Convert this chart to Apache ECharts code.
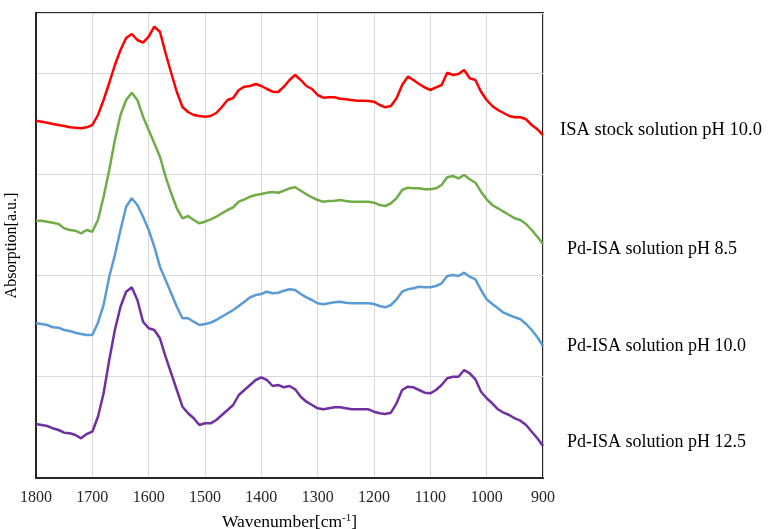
<!DOCTYPE html>
<html>
<head>
<meta charset="utf-8">
<script src="https://cdn.jsdelivr.net/npm/echarts@6/dist/echarts.min.js"></script>
<style>
  html, body { margin: 0; padding: 0; background: #fff; }
  #main { width: 768px; height: 529px; }
</style>
</head>
<body>
<div id="main"></div>
<script>
// 波数 1800 -> 900, 每 10 cm-1 一个点
var wavenumber = [1800,1790,1780,1770,1760,1750,1740,1730,1720,1710,
  1700,1690,1680,1670,1660,1650,1640,1630,1620,1610,
  1600,1590,1580,1570,1560,1550,1540,1530,1520,1510,
  1500,1490,1480,1470,1460,1450,1440,1430,1420,1410,
  1400,1390,1380,1370,1360,1350,1340,1330,1320,1310,
  1300,1290,1280,1270,1260,1250,1240,1230,1220,1210,
  1200,1190,1180,1170,1160,1150,1140,1130,1120,1110,
  1100,1090,1080,1070,1060,1050,1040,1030,1020,1010,
  1000,990,980,970,960,950,940,930,920,910,900]

// 吸收值 (任意单位, 各曲线已错开)
var isa_stock_10 = [357.3,356.3,355.3,354,353,352,350.7,350.3,349.7,350.7,
  353,363,378,395,413,428,440,444,438,435.3,
  441.3,451.3,446.3,425,405,386,371,366,363,362,
  361.3,362,365,371,378,380,388,391.3,392,394,
  392,389,386.3,386,391.3,398,403,398,392,389,
  383,380.3,380.7,380.7,379.3,378.7,378,377.3,377.3,377,
  376.3,373,370.7,372,379.7,393,401.3,398,394,390.7,
  388,390.7,393,405.3,403,404,408,399.7,398,386.3,
  378,372,368,365,362,360.7,360.7,358.7,353,348.7,343]

var pd_isa_85 = [257.3,257.3,256.3,255.3,254,249.7,248,247.3,244.7,248,
  246.3,258,281.3,308,338,363,378,385.3,378,361.3,
  348,334.7,321.3,301.3,284.7,269.7,259.7,262,258,254.7,
  256.3,258.7,261.3,264.7,268,270.7,276.3,278.7,281.3,283,
  284,285.3,286,285.3,287.3,289.7,290.7,287.3,283.7,280.7,
  278,276.3,277,277.3,278,277,276.3,276.3,276.3,276.3,
  275.3,273,272,274.7,279.7,288,290.3,289.7,289.7,288.7,
  288.7,289.7,293,300.7,302,299.7,303,298.7,295.3,286.3,
  278.7,273,269.7,266.3,263,259.7,258,254,248,241.3,234]

var pd_isa_100 = [154.7,154,153,150.7,150.3,148,147,145.3,144,143,
  143,155.3,173,201.3,223,248,271.3,279.7,273,261.3,
  248,231.3,211.3,198,184.7,171.3,159.7,159.7,156.3,153,
  154,155.3,158,161.3,164.7,168,172,176.3,180.7,183,
  184,186.3,184.7,185.3,187.3,188.7,188,184,180.7,178,
  174.7,173.7,174.7,175.7,176.3,175.3,174.7,174.7,174.7,174.7,
  174,172,170.7,173,178.7,186.3,188.7,189.7,191.3,190.7,
  190.7,192,194.7,202,203,202,205.3,201.3,198.7,188,
  178.7,174,169.7,165.3,163,160.7,158.7,154,148,140.7,132]

var pd_isa_125 = [54,53,52,49.7,48,45.3,44.7,43,39.7,44,
  46.3,61.3,84.7,118,148,171.3,186.3,190.7,178,156.3,
  149.7,148,139.7,121.3,104.7,88,71.3,64.7,59.7,53,
  54.7,54.7,58,63,68,73,83,88,93,98,
  100.7,98,92,93,90.7,92,88.7,81.3,76.3,73,
  69.7,68.7,69.7,70.7,70.7,69.7,68.7,68.7,68.7,68.7,
  66.3,64.7,64,65.3,74.7,88,91.3,90.7,88,85.3,
  84.7,88,93,99.7,101.3,101.3,108,104.7,98.7,86.3,
  79.7,74.7,68.7,65.3,63,59.7,57.3,53,46.3,39.7,32]

var series_names = ['ISA stock solution pH 10.0', 'Pd-ISA solution pH 8.5',
  'Pd-ISA solution pH 10.0', 'Pd-ISA solution pH 12.5']
var series_colors = ['#ff0000', '#70ad47', '#5b9bd5', '#7030a0']
var x_ticks = [900, 1800]  // min / max, 间隔 100

var serif = '"Liberation Serif", "DejaVu Serif", serif'

function pairs(arr) {
  return arr.map(function (v, i) { return [wavenumber[i], v] })
}

var all_values = [isa_stock_10, pd_isa_85, pd_isa_100, pd_isa_125]
var label_offsets = [[17, -5], [24, 5], [24, 0], [24, -4]]

var series = all_values.map(function (vals, i) {
  return {
    name: series_names[i],
    type: 'line',
    data: pairs(vals),
    showSymbol: false,
    symbol: 'none',
    smooth: false,
    lineStyle: { color: series_colors[i], width: 2.5 },
    itemStyle: { color: series_colors[i] },
    endLabel: {
      show: true,
      formatter: '{a}',
      color: '#000',
      fontFamily: serif,
      fontSize: i === 0 ? 18.5 : 18,
      distance: 0,
      align: 'left',
      verticalAlign: 'middle',
      offset: label_offsets[i]
    }
  }
})

var myChart = echarts.init(document.getElementById('main'))
myChart.setOption({
  animation: false,
  grid: {
    left: 36, top: 13, right: 225, bottom: 51,
    outerBoundsMode: 'none',
    containLabel: false,
    show: true, borderColor: '#262626', borderWidth: 2
  },
  xAxis: {
    type: 'value',
    inverse: true,
    min: x_ticks[0],
    max: x_ticks[1],
    interval: 100,
    name: 'Wavenumber[cm{sup|-1}]',
    nameLocation: 'middle',
    nameGap: 35,
    nameTextStyle: {
      fontFamily: serif, fontSize: 17.5, color: '#000',
      rich: { sup: { fontFamily: serif, fontSize: 11, color: '#000', verticalAlign: 'top', padding: [0, 0, 8, 0] } }
    },
    axisLine: { show: true, lineStyle: { color: '#262626', width: 2 } },
    axisTick: { show: false },
    axisLabel: {
      fontFamily: serif, fontSize: 16, color: '#262626', margin: 12,
      formatter: function (v) { return String(v) }
    },
    splitLine: { show: true, lineStyle: { color: '#d9d9d9', width: 1 } }
  },
  yAxis: {
    type: 'value',
    min: 0,
    max: 465,
    interval: 101.3,
    name: 'Absorption[a.u.]',
    nameLocation: 'middle',
    nameGap: 16,
    nameTextStyle: { fontFamily: serif, fontSize: 16, color: '#000' },
    axisLine: { show: true, lineStyle: { color: '#262626', width: 2 } },
    axisTick: { show: false },
    axisLabel: { show: false },
    splitLine: { show: true, lineStyle: { color: '#d9d9d9', width: 1 } }
  },
  series: series
})
</script>
</body>
</html>
